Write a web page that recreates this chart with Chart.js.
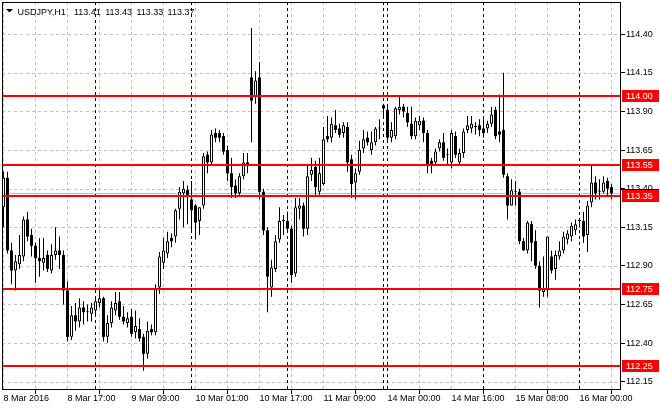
<!DOCTYPE html>
<html><head><meta charset="utf-8">
<script src="https://cdn.jsdelivr.net/npm/chart.js@4/dist/chart.umd.min.js"></script>
<style>html,body{margin:0;padding:0;background:#fff}canvas{display:block}</style>
</head><body>
<canvas id="c" width="660" height="410"></canvas>
<script>
const symbol = 'USDJPY,H1';
const lastOHLC = ['113.41', '113.43', '113.33', '113.37'];

const open = [113.28,113.47,113.00,112.87,112.91,112.96,113.20,113.10,113.03,112.95,
112.92,112.97,112.87,112.97,113.00,112.97,112.74,112.44,112.58,112.54,
112.63,112.60,112.59,112.61,112.66,112.69,112.44,112.53,112.61,112.67,
112.57,112.53,112.57,112.47,112.49,112.44,112.33,112.49,112.47,112.76,
112.92,112.98,113.08,113.09,113.27,113.37,113.39,113.33,113.29,113.19,
113.29,113.62,113.57,113.76,113.76,113.74,113.65,113.50,113.42,113.37,
113.48,113.57,114.12,114.00,114.12,113.38,113.13,112.76,112.88,113.07,
113.19,113.19,113.14,112.85,113.27,113.29,113.14,113.49,113.54,113.38,
113.43,113.74,113.73,113.81,113.79,113.76,113.80,113.59,113.44,113.51,
113.66,113.73,113.65,113.70,113.79,113.94,113.91,113.73,113.74,113.91,
113.93,113.89,113.82,113.74,113.81,113.84,113.76,113.58,113.57,113.66,
113.70,113.62,113.57,113.74,113.57,113.63,113.78,113.79,113.80,113.81,
113.79,113.79,113.82,113.91,113.77,113.78,113.48,113.29,113.38,113.38,
113.06,113.00,113.17,113.06,112.90,112.73,112.74,112.96,112.88,112.96,
113.00,113.07,113.09,113.13,113.19,113.19,113.10,113.31,113.44,113.38,
113.38,113.45,113.41];
const high = [113.51,113.51,113.05,112.97,113.10,113.22,113.25,113.14,113.05,113.08,
113.08,113.00,113.04,113.15,113.09,113.00,112.80,112.64,112.66,112.69,
112.67,112.65,112.66,112.70,112.76,112.70,112.58,112.67,112.73,112.73,
112.64,112.60,112.62,112.61,112.56,112.46,112.54,112.52,112.78,112.99,
113.08,113.12,113.11,113.27,113.41,113.45,113.42,113.45,113.30,113.28,
113.63,113.64,113.78,113.79,113.78,113.76,113.68,113.60,113.46,113.50,
113.63,113.63,114.44,114.16,114.22,113.40,113.15,112.94,113.10,113.28,
113.23,113.25,113.16,113.34,113.34,113.31,113.55,113.60,113.58,113.60,
113.80,113.87,113.86,113.91,113.82,113.83,113.83,113.62,113.53,113.71,
113.78,113.77,113.77,113.80,113.85,113.95,113.93,113.83,113.93,114.00,
113.95,113.93,113.93,113.86,113.87,113.86,113.78,113.60,113.66,113.72,
113.76,113.66,113.78,113.77,113.66,113.79,113.87,113.87,113.83,113.85,
113.85,113.84,113.93,113.93,114.01,114.15,113.50,113.46,113.45,113.40,
113.08,113.19,113.19,113.13,112.93,112.96,113.09,113.00,113.00,113.06,
113.12,113.13,113.18,113.20,113.21,113.25,113.32,113.55,113.48,113.46,
113.48,113.47,113.43];
const low = [113.15,112.98,112.78,112.74,112.88,112.93,113.06,112.96,112.79,112.83,
112.87,112.86,112.85,112.94,112.88,112.65,112.41,112.42,112.48,112.50,
112.52,112.54,112.54,112.57,112.63,112.41,112.40,112.50,112.58,112.55,
112.52,112.50,112.44,112.43,112.41,112.22,112.30,112.45,112.45,112.72,
112.88,112.95,113.02,113.05,113.20,113.15,113.17,113.12,113.07,113.10,
113.27,113.50,113.55,113.70,113.70,113.62,113.45,113.34,113.34,113.35,
113.46,113.50,113.70,113.95,113.33,113.10,112.60,112.70,112.86,113.05,
113.10,113.12,112.79,112.83,113.20,113.09,113.10,113.45,113.35,113.36,
113.42,113.70,113.70,113.76,113.73,113.73,113.51,113.34,113.33,113.49,
113.63,113.68,113.62,113.68,113.72,113.86,113.70,113.70,113.72,113.88,
113.86,113.80,113.72,113.72,113.78,113.70,113.50,113.50,113.55,113.64,
113.58,113.56,113.53,113.60,113.56,113.60,113.76,113.76,113.75,113.74,
113.73,113.76,113.80,113.72,113.70,113.47,113.20,113.29,113.29,113.04,
113.00,112.98,112.93,112.88,112.63,112.70,112.70,112.85,112.81,112.94,
112.98,113.04,113.06,113.10,113.15,113.05,112.99,113.28,113.33,113.33,
113.37,113.35,113.33];
const close = [113.47,113.00,112.87,112.93,112.97,113.20,113.09,113.03,112.95,112.93,
112.95,112.88,112.97,113.00,112.97,112.74,112.44,112.58,112.54,112.63,
112.60,112.60,112.63,112.67,112.69,112.44,112.53,112.63,112.66,112.57,
112.54,112.56,112.46,112.51,112.43,112.33,112.48,112.47,112.75,112.96,
113.00,113.06,113.06,113.26,113.38,113.40,113.36,113.26,113.18,113.28,
113.61,113.57,113.75,113.73,113.73,113.64,113.50,113.41,113.37,113.48,
113.57,113.55,113.97,114.10,113.38,113.13,112.83,112.89,113.06,113.19,
113.19,113.14,112.84,113.28,113.29,113.14,113.48,113.52,113.41,113.50,
113.72,113.72,113.82,113.78,113.75,113.81,113.57,113.43,113.50,113.65,
113.72,113.70,113.70,113.79,113.79,113.92,113.73,113.78,113.92,113.93,
113.90,113.83,113.74,113.84,113.84,113.76,113.56,113.56,113.64,113.70,
113.60,113.62,113.76,113.62,113.63,113.77,113.81,113.82,113.80,113.78,
113.76,113.82,113.88,113.74,113.75,113.49,113.29,113.39,113.38,113.06,
113.00,113.18,113.05,112.90,112.74,112.75,113.09,112.87,112.97,113.00,
113.09,113.11,113.16,113.17,113.19,113.09,113.29,113.44,113.37,113.38,
113.44,113.40,113.37];

const xTickBars = [0, 16, 32, 48, 64, 80, 96, 112, 128, 144];
const xTickLabels = ['8 Mar 2016', '8 Mar 17:00', '9 Mar 09:00', '10 Mar 01:00', '10 Mar 17:00',
  '11 Mar 09:00', '14 Mar 00:00', '14 Mar 16:00', '15 Mar 08:00', '16 Mar 00:00'];
const gridBars = [0, 8, 16, 24, 32, 40, 48, 56, 64, 72, 80, 88, 96, 104, 112, 120, 128, 136, 144, 152];
const daySeparatorBars = [23, 47, 71, 95, 96, 120, 144];
const yTicks = [112.15, 112.40, 112.65, 112.90, 113.15, 113.40, 113.65, 113.90, 114.15, 114.40];
const levels = [114.00, 113.55, 113.35, 112.75, 112.25];
const bidPrice = 113.37;

const FONT = 'Liberation Sans, Arial, sans-serif';
const idx = open.map((_, i) => i);
const up = idx.map(i => close[i] >= open[i]);
const bodies = idx.map(i => ({ x: i, y: [open[i], close[i]] }));
const wicks = idx.map(i => ({ x: i, y: [low[i], high[i]] }));

function hline(ctx, x1, x2, y) { ctx.beginPath(); ctx.moveTo(x1, y); ctx.lineTo(x2, y); ctx.stroke(); }
function vline(ctx, x, y1, y2) { ctx.beginPath(); ctx.moveTo(x, y1); ctx.lineTo(x, y2); ctx.stroke(); }

const decor = {
  id: 'decor',
  beforeDatasetsDraw(chart) {
    const { ctx, chartArea: a, scales: { x, y } } = chart;
    ctx.save();
    ctx.lineWidth = 1;
    ctx.strokeStyle = '#c0c0c0';
    ctx.setLineDash([3, 3]);
    yTicks.forEach(v => hline(ctx, a.left, a.right, Math.round(y.getPixelForValue(v)) + 0.5));
    gridBars.forEach(b => vline(ctx, Math.floor(x.getPixelForValue(b)) + 0.5, a.top, a.bottom));
    ctx.strokeStyle = '#000';
    daySeparatorBars.forEach(b => vline(ctx, Math.floor(x.getPixelForValue(b)) + 0.5, a.top, a.bottom));
    ctx.setLineDash([]);
    ctx.strokeStyle = '#c0c0c0';
    hline(ctx, a.left, a.right, Math.round(y.getPixelForValue(bidPrice)) + 0.5);
    ctx.restore();
  },
  afterDatasetsDraw(chart) {
    const { ctx, chartArea: a, scales: { y } } = chart;
    ctx.save();
    ctx.strokeStyle = '#ff0000';
    ctx.lineWidth = 2;
    levels.forEach(v => hline(ctx, a.left, a.right - 1, Math.round(y.getPixelForValue(v))));
    ctx.strokeStyle = '#000';
    ctx.lineWidth = 1;
    ctx.strokeRect(a.left + 0.5, a.top + 0.5, a.right - a.left - 1, a.bottom - a.top - 1);
    ctx.restore();
  },
  afterDraw(chart) {
    const { ctx, chartArea: a, scales: { y } } = chart;
    ctx.save();
    // bid marker edge on the axis
    const pb = Math.round(y.getPixelForValue(bidPrice));
    ctx.fillStyle = '#000';
    ctx.fillRect(a.right, pb - 4, 38, 1);
    ctx.font = '9px ' + FONT;
    ctx.textBaseline = 'middle';
    ctx.textAlign = 'left';
    levels.forEach(v => {
      const py = Math.round(y.getPixelForValue(v));
      ctx.fillStyle = '#ff0000';
      ctx.fillRect(a.right + 1, py - 6, 37, 12);
      ctx.fillStyle = '#ffffff';
      ctx.fillText(v.toFixed(2), a.right + 5, py + 0.5);
    });
    // title
    ctx.fillStyle = '#000';
    ctx.beginPath();
    ctx.moveTo(6, 9); ctx.lineTo(13, 9); ctx.lineTo(9.5, 12.5); ctx.closePath(); ctx.fill();
    ctx.textBaseline = 'alphabetic';
    ctx.fillText(symbol, 17.5, 14.5);
    lastOHLC.forEach((t, k) => ctx.fillText(t, 74 + 31.2 * k, 14.5));
    ctx.restore();
  }
};

new Chart(document.getElementById('c'), {
  type: 'bar',
  data: {
    datasets: [
      { label: 'body', data: bodies, grouped: false, barThickness: 3, minBarLength: 1,
        backgroundColor: up.map(u => u ? '#ffffff' : '#000000'), borderColor: '#000000',
        borderWidth: up.map(u => u ? 1 : 0), borderSkipped: false, inflateAmount: 0, order: 1 },
      { label: 'wick', data: wicks, grouped: false, barThickness: 1, minBarLength: 1,
        backgroundColor: '#000000', borderWidth: 0, inflateAmount: 0, order: 2 }
    ]
  },
  options: {
    responsive: false, animation: false, devicePixelRatio: 1, events: [],
    layout: { padding: { left: 2, top: 2, right: 0, bottom: 0 } },
    plugins: { legend: { display: false }, tooltip: { enabled: false } },
    scales: {
      x: {
        type: 'linear', position: 'bottom', min: -0.375, max: 154.375, offset: false,
        grid: { drawOnChartArea: false, drawTicks: true, tickLength: 4, color: '#000', tickColor: '#000' },
        border: { display: false },
        afterBuildTicks(s) { s.ticks = xTickBars.map(v => ({ value: v })); },
        afterFit(s) { s.height = 20; s.paddingLeft = 0; s.paddingRight = 0; },
        ticks: { autoSkip: false, maxRotation: 0, minRotation: 0, align: 'start', padding: -1,
          color: '#000', font: { family: FONT, size: 9 },
          callback: (v) => { const k = xTickBars.indexOf(v); return k >= 0 ? xTickLabels[k] : ''; } }
      },
      y: {
        type: 'linear', position: 'right', min: 112.0958, max: 114.6088,
        grid: { drawOnChartArea: false, drawTicks: true, tickLength: 4, color: '#000', tickColor: '#000' },
        border: { display: false },
        afterBuildTicks(s) { s.ticks = yTicks.map(v => ({ value: v })); },
        afterFit(s) { s.width = 39; s.paddingTop = 0; s.paddingBottom = 0; },
        ticks: { padding: 1, color: '#000', font: { family: FONT, size: 9 },
          callback: (v) => Number(v).toFixed(2) }
      }
    }
  },
  plugins: [decor]
});
</script>
</body></html>
